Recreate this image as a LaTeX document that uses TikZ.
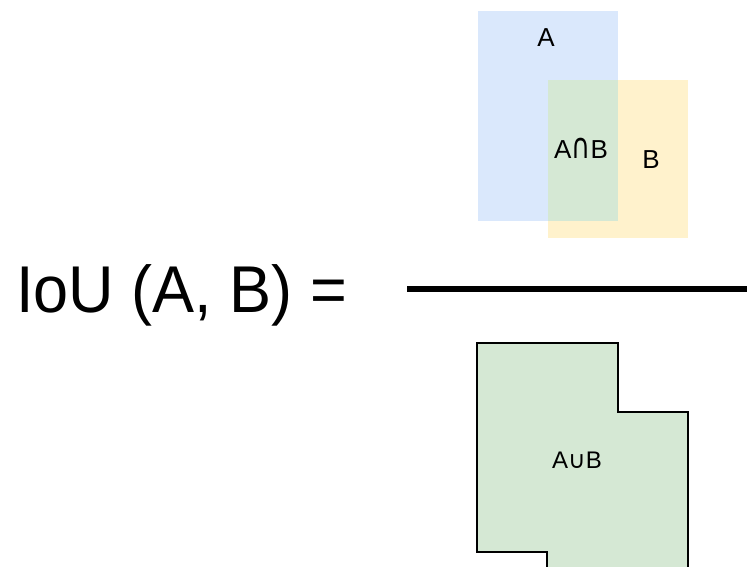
\documentclass[tikz,border=0pt]{standalone}
\usepackage{fontspec}
\setmainfont{Liberation Sans}
\newfontfamily\symfont{DejaVu Sans}
\definecolor{boxA}{HTML}{DAE8FC}
\definecolor{boxB}{HTML}{FFF2CC}
\definecolor{boxAB}{HTML}{D5E8D4}
\tikzset{
    lbl/.style={anchor=base, inner sep=0pt, font=\fontsize{26}{26}\selectfont},
    big/.style={anchor=base west, inner sep=0pt, font=\fontsize{63}{63}\selectfont}
}

\begin{document}
\begin{tikzpicture}[x=1pt, y=-1pt]
    \useasboundingbox (0,0) rectangle (747,567);
    \clip (0,0) rectangle (747,567);
    % The two boxes and their overlap.
        \fill[boxA] (478,11) rectangle (618,221);
        \fill[boxB] (548,80) rectangle (688,238);
        \fill[boxAB] (548,80) rectangle (618,221);
    % Below nodes are the labels.
        \node[lbl] (lblA) at (546,47) {A};
        \node[lbl] (lblAnB) at (581,158) {A\scalebox{1}[1.35]{\symfont ∩}B};
        \node[lbl] (lblB) at (651,168) {B};
    % The left hand side and the fraction bar.
        \node[big, yscale=1.05] (iou) at (16,312) {IoU (A, B) =};
        \coordinate (barL) at (407,289);
        \coordinate (barR) at (750,289);
        \draw[line width=5.5pt] (barL) -- (barR);
    % This draws the union shape.
        \draw[fill=boxAB, draw=black, line width=1.5pt]
            (477,343) -- (618,343) -- (618,412) -- (688,412) -- (688,600)
            -- (547,600) -- (547,552) -- (477,552) -- cycle;
        \node[lbl, font=\fontsize{24}{24}\selectfont] (lblAuB) at (577,468) {A{\symfont ∪}B};
\end{tikzpicture}
\end{document}
